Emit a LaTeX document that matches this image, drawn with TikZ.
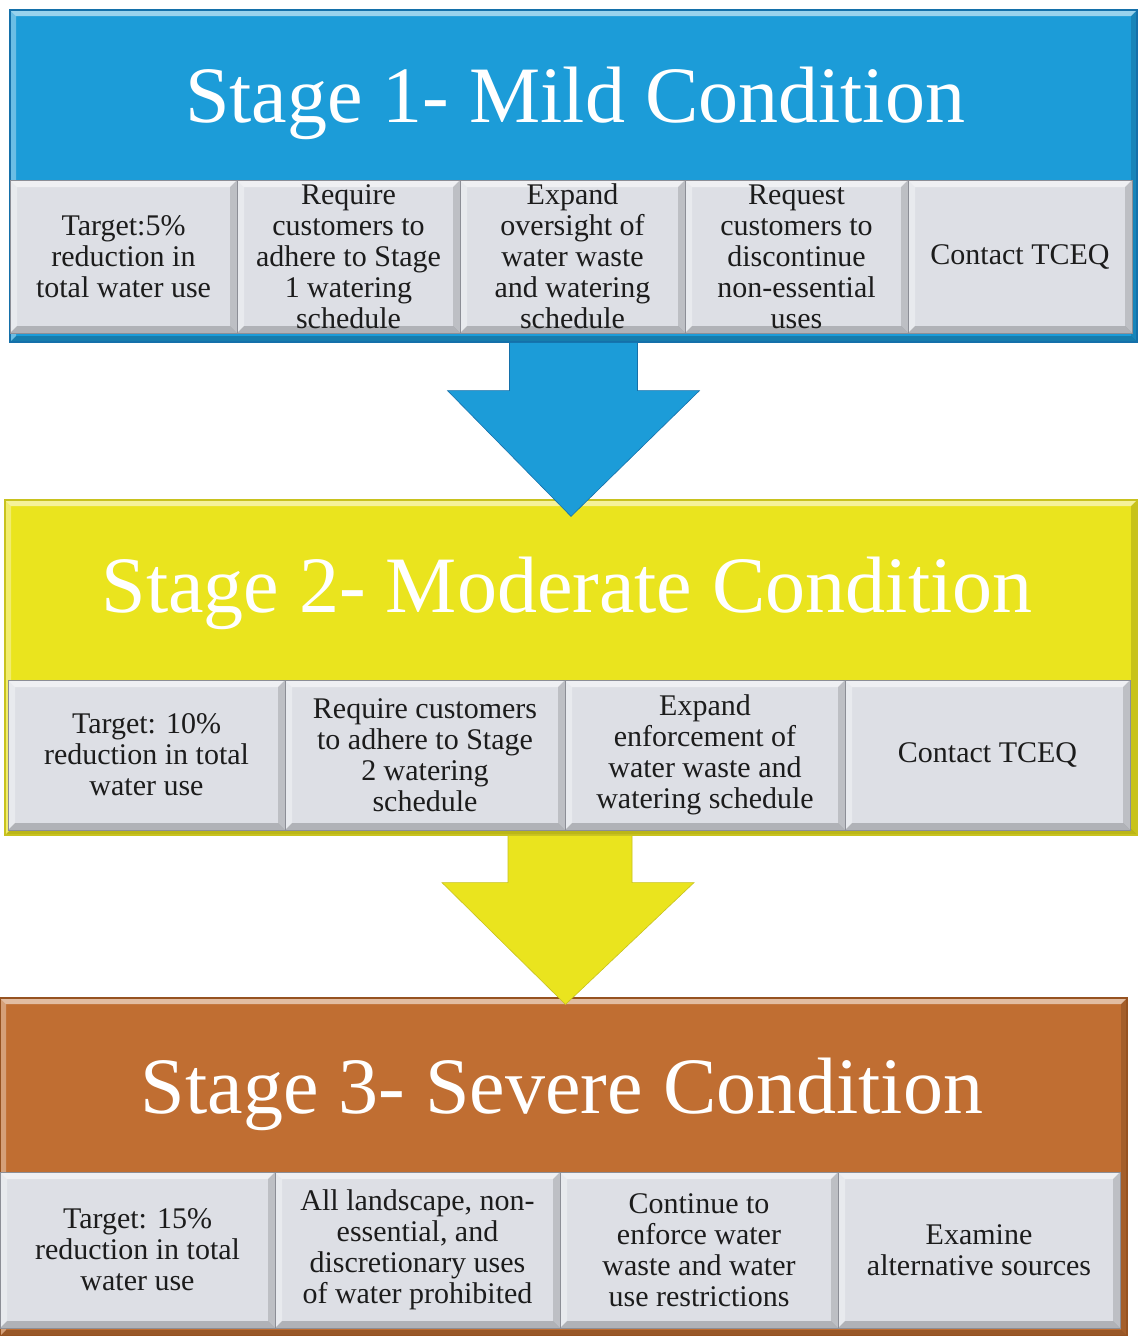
\documentclass[tikz,border=0pt]{standalone}
\usepackage{fontspec}
\setmainfont{Liberation Serif}
\usetikzlibrary{calc}
\definecolor{sblue}{RGB}{28,156,216}
\definecolor{sblueD}{RGB}{20,112,170}
\definecolor{syel}{RGB}{234,228,30}
\definecolor{syelD}{RGB}{200,194,30}
\definecolor{sorg}{RGB}{192,110,50}
\definecolor{sorgD}{RGB}{150,82,32}
\definecolor{cellg}{RGB}{221,223,229}
\definecolor{celledge}{RGB}{140,142,150}
\definecolor{txt}{RGB}{28,28,28}
\tikzset{
  bevel/.style={path picture={
    \coordinate (bnw) at (path picture bounding box.north west);
    \coordinate (bne) at (path picture bounding box.north east);
    \coordinate (bsw) at (path picture bounding box.south west);
    \coordinate (bse) at (path picture bounding box.south east);
    \fill[white,opacity=0.55] (bnw) -- (bne) -- ([shift={(-#1,-#1)}]bne) -- ([shift={(#1,-#1)}]bnw) -- cycle;
    \fill[white,opacity=0.35] (bnw) -- ([shift={(#1,-#1)}]bnw) -- ([shift={(#1,#1)}]bsw) -- (bsw) -- cycle;
    \fill[black,opacity=0.20] (bsw) -- (bse) -- ([shift={(-#1,#1)}]bse) -- ([shift={(#1,#1)}]bsw) -- cycle;
    \fill[black,opacity=0.14] (bne) -- (bse) -- ([shift={(-#1,#1)}]bse) -- ([shift={(-#1,-#1)}]bne) -- cycle;
  }},
  panel/.style={rectangle, line width=1.2pt, inner sep=0pt, bevel=6pt},
  cell/.style={rectangle, fill=cellg, draw=celledge, line width=0.8pt, inner sep=0pt,
    bevel=7pt, align=center, text=txt, font=\fontsize{30}{31}\selectfont},
  title/.style={text=white, inner sep=0pt, anchor=base, font=\fontsize{80}{80}\selectfont},
  blockarrow/.style={line width=0.6pt},
}
\begin{document}
\begin{tikzpicture}[x=1pt,y=-1pt]
\useasboundingbox (0,0) rectangle (1140,1336);
\fill[white] (0,0) rectangle (1140,1336);
% ---------- panels ----------
\node[panel, fill=sblue, draw=sblueD, minimum width=1127pt, minimum height=332pt] (p1) at (573.5,176) {};
\node[panel, fill=syel, draw=syelD, minimum width=1132pt, minimum height=335pt] (p2) at (571,667.5) {};
\node[panel, fill=sorg, draw=sorgD, minimum width=1127pt, minimum height=338pt] (p3) at (563.5,1167) {};
% ---------- titles ----------
\node[title] (h1) at (575,122) {Stage 1- Mild Condition};
\node[title] (h2) at (567,612) {Stage 2- Moderate Condition};
\node[title] (h3) at (562,1113) {Stage 3- Severe Condition};
% ---------- stage 1 cells ----------
\node[cell, minimum width=227pt, minimum height=153pt] (c11) at (123.5,256.5) {Target:5\%\\reduction in\\total water use};
\node[cell, minimum width=223pt, minimum height=153pt] (c12) at (348.5,256.5) {Require\\customers to\\adhere to Stage\\1 watering\\schedule};
\node[cell, minimum width=225pt, minimum height=153pt] (c13) at (572.5,256.5) {Expand\\oversight of\\water waste\\and watering\\schedule};
\node[cell, minimum width=223pt, minimum height=153pt] (c14) at (796.5,256.5) {Request\\customers to\\discontinue\\non-essential\\uses};
\node[cell, minimum width=224pt, minimum height=153pt] (c15) at (1020,256.5) {Contact TCEQ};
% ---------- stage 2 cells ----------
\node[cell, minimum width=277pt, minimum height=150pt] (c21) at (146.5,755) {Target: 10\%\\reduction in total\\water use};
\node[cell, minimum width=280pt, minimum height=150pt] (c22) at (425,755) {Require customers\\to adhere to Stage\\2 watering\\schedule};
\node[cell, minimum width=280pt, minimum height=150pt] (c23) at (705,755) {Expand\\enforcement of\\water waste and\\watering schedule};
\node[cell, minimum width=285pt, minimum height=150pt] (c24) at (987.5,755) {Contact TCEQ};
% ---------- stage 3 cells ----------
\node[cell, minimum width=275pt, minimum height=156pt] (c31) at (137.5,1250) {Target: 15\%\\reduction in total\\water use};
\node[cell, minimum width=285pt, minimum height=156pt] (c32) at (417.5,1250) {All landscape, non-\\essential, and\\discretionary uses\\of water prohibited};
\node[cell, minimum width=278pt, minimum height=156pt] (c33) at (699,1250) {Continue to\\enforce water\\waste and water\\use restrictions};
\node[cell, minimum width=282pt, minimum height=156pt] (c34) at (979,1250) {Examine\\alternative sources};
% ---------- block arrows ----------
\filldraw[blockarrow, fill=sblue, draw=sblueD]
  ($(p1.south)+(-64,0)$) -- ($(p1.south)+(64,0)$) -- ($(p1.south)+(64,48)$)
  -- ($(p1.south)+(126,48)$) -- ($(p2.north)+(0,17)$) -- ($(p1.south)+(-126,48)$)
  -- ($(p1.south)+(-64,48)$) -- cycle;
\filldraw[blockarrow, fill=syel, draw=syelD]
  ($(p2.south)+(-63,0)$) -- ($(p2.south)+(61,0)$) -- ($(p2.south)+(61,47)$)
  -- ($(p2.south)+(123,47)$) -- ($(p3.north)+(2,7)$) -- ($(p2.south)+(-129,47)$)
  -- ($(p2.south)+(-63,47)$) -- cycle;
\end{tikzpicture}
\end{document}
